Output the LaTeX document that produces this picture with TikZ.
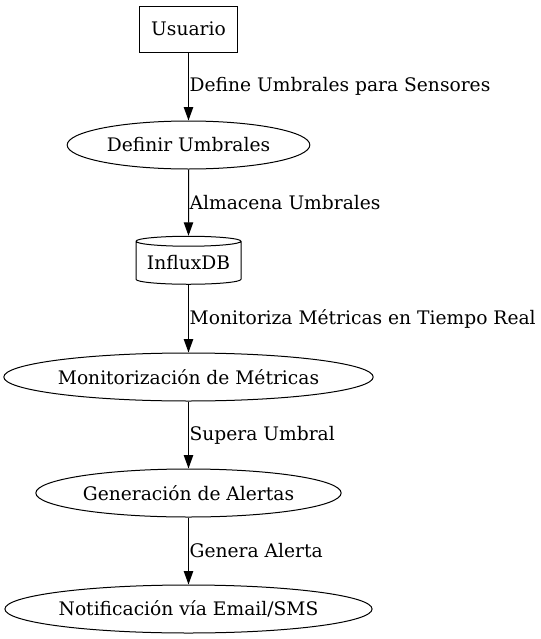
\documentclass[tikz,border=0pt]{standalone}
\usepackage{fontspec}
\setmainfont{DejaVu Serif}
\usetikzlibrary{arrows.meta,shapes.geometric}

\begin{document}
\begin{tikzpicture}[
  x=0.75pt, y=-0.75pt,
  font=\fontsize{14}{17}\selectfont,
  >={Triangle[length=10pt,width=7pt]},
  line width=0.75pt,
  % nodes
  actor/.style={draw, rectangle, minimum width=74pt, minimum height=34.5pt,
                inner sep=0pt},
  proc/.style={draw, ellipse, minimum height=36pt, inner sep=0pt},
  store/.style={draw, cylinder, shape border rotate=90, aspect=0.12,
                minimum width=78.75pt, minimum height=36pt, inner sep=0pt},
  % connectors
  flow/.style={->},
  lbl/.style={right, inner sep=0.5pt},
]

% ── Bounding box ─────────────────────────────────────────────────────────
\useasboundingbox (0,0) rectangle (541,639);

\def\xc{188.5}

% ── Nodes ────────────────────────────────────────────────────────────────
\node[actor] (usr)  at (\xc, 29)  {Usuario};
\node[proc, minimum width=182pt] (defu) at (\xc, 145) {Definir Umbrales};
\node[store] (idb)  at (\xc, 263) {InfluxDB};
\node[proc, minimum width=275pt] (mon)  at (\xc, 377) {Monitorización de Métricas};
\node[proc, minimum width=229pt] (gen)  at (\xc, 493) {Generación de Alertas};
\node[proc, minimum width=274pt] (noti) at (\xc, 609) {Notificación vía Email/SMS};

% ── Edges ────────────────────────────────────────────────────────────────
\draw[flow] (usr)  -- node[lbl] {Define Umbrales para Sensores} (defu);
\draw[flow] (defu) -- node[lbl] {Almacena Umbrales} (idb);
\draw[flow] (idb)  -- node[lbl] {Monitoriza Métricas en Tiempo Real} (mon);
\draw[flow] (mon)  -- node[lbl] {Supera Umbral} (gen);
\draw[flow] (gen)  -- node[lbl] {Genera Alerta} (noti);

\end{tikzpicture}
\end{document}
